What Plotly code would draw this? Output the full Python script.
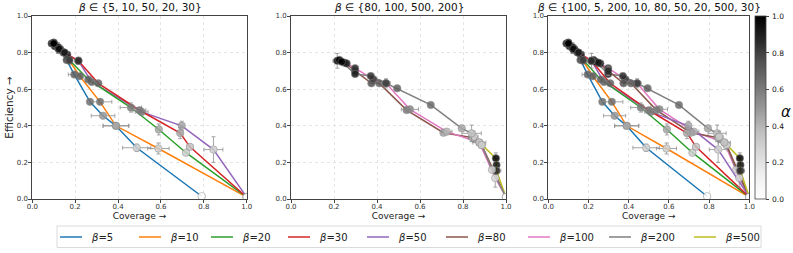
import plotly.graph_objects as go

# ---------------- data ----------------
# beta = 5
b5_cov = [0.090, 0.105, 0.125, 0.160, 0.196, 0.269, 0.330, 0.390, 0.487, 0.790]
b5_eff = [0.850, 0.835, 0.815, 0.760, 0.680, 0.531, 0.455, 0.400, 0.280, 0.015]
b5_alpha = [1.0, 0.95, 0.9, 0.8, 0.7, 0.65, 0.5, 0.45, 0.3, 0.0]
b5_cov_err = [0.010, 0.008, 0.010, 0.010, 0.028, 0.005, 0.055, 0.060, 0.066, 0.015]
b5_eff_err = [0.010, 0.010, 0.020, 0.010, 0.010, 0.008, 0.010, 0.010, 0.020, 0.008]

# beta = 10
b10_cov = [0.095, 0.120, 0.145, 0.173, 0.222, 0.316, 0.390, 0.588, 1.000]
b10_eff = [0.850, 0.825, 0.800, 0.755, 0.671, 0.531, 0.400, 0.276, 0.010]
b10_alpha = [1.0, 0.95, 0.9, 0.8, 0.7, 0.65, 0.45, 0.3, 0.0]
b10_cov_err = [0.010, 0.012, 0.010, 0.010, 0.015, 0.055, 0.060, 0.050, 0.005]
b10_eff_err = [0.010, 0.030, 0.010, 0.010, 0.010, 0.008, 0.010, 0.030, 0.005]

# beta = 20
b20_cov = [0.100, 0.120, 0.150, 0.173, 0.261, 0.460, 0.590, 0.717, 1.000]
b20_eff = [0.850, 0.830, 0.800, 0.760, 0.653, 0.500, 0.380, 0.253, 0.010]
b20_alpha = [1.0, 0.95, 0.9, 0.8, 0.7, 0.6, 0.45, 0.3, 0.0]
b20_cov_err = [0.010, 0.010, 0.010, 0.010, 0.012, 0.050, 0.010, 0.010, 0.005]
b20_eff_err = [0.010, 0.010, 0.010, 0.010, 0.010, 0.025, 0.030, 0.010, 0.005]

# beta = 30
b30_cov = [0.100, 0.125, 0.150, 0.215, 0.308, 0.500, 0.690, 0.735, 1.000]
b30_eff = [0.850, 0.820, 0.800, 0.755, 0.632, 0.485, 0.360, 0.285, 0.010]
b30_alpha = [1.0, 0.95, 0.9, 0.85, 0.7, 0.6, 0.45, 0.35, 0.0]
b30_cov_err = [0.010, 0.010, 0.010, 0.015, 0.010, 0.030, 0.012, 0.015, 0.005]
b30_eff_err = [0.010, 0.010, 0.010, 0.020, 0.010, 0.015, 0.030, 0.015, 0.005]

# beta = 50
b50_cov = [0.100, 0.130, 0.163, 0.215, 0.277, 0.510, 0.697, 0.845, 1.000]
b50_eff = [0.855, 0.820, 0.790, 0.755, 0.640, 0.476, 0.400, 0.270, 0.010]
b50_alpha = [1.0, 0.95, 0.9, 0.85, 0.7, 0.6, 0.45, 0.3, 0.0]
b50_cov_err = [0.010, 0.010, 0.010, 0.010, 0.010, 0.030, 0.010, 0.044, 0.005]
b50_eff_err = [0.010, 0.020, 0.010, 0.010, 0.010, 0.015, 0.025, 0.070, 0.005]

# beta = 80
b80_cov = [0.215, 0.250, 0.298, 0.374, 0.411, 0.538, 0.709, 0.845, 0.887, 1.000]
b80_eff = [0.755, 0.745, 0.700, 0.632, 0.632, 0.486, 0.362, 0.335, 0.295, 0.010]
b80_alpha = [1.0, 0.9, 0.85, 0.75, 0.7, 0.6, 0.45, 0.35, 0.3, 0.0]
b80_cov_err = [0.020, 0.010, 0.010, 0.010, 0.015, 0.015, 0.010, 0.020, 0.010, 0.005]
b80_eff_err = [0.040, 0.010, 0.025, 0.010, 0.010, 0.010, 0.010, 0.020, 0.010, 0.005]

# beta = 100
b100_cov = [0.225, 0.259, 0.298, 0.383, 0.442, 0.553, 0.724, 0.876, 0.950, 1.000]
b100_eff = [0.760, 0.741, 0.715, 0.654, 0.632, 0.490, 0.368, 0.308, 0.115, 0.010]
b100_alpha = [1.0, 0.9, 0.85, 0.8, 0.75, 0.55, 0.4, 0.35, 0.25, 0.0]
b100_cov_err = [0.010, 0.010, 0.010, 0.010, 0.020, 0.040, 0.025, 0.030, 0.010, 0.005]
b100_eff_err = [0.010, 0.010, 0.010, 0.010, 0.025, 0.010, 0.010, 0.010, 0.050, 0.005]

# beta = 200
b200_cov = [0.236, 0.298, 0.371, 0.442, 0.494, 0.650, 0.794, 0.840, 0.887, 0.935, 1.000]
b200_eff = [0.750, 0.683, 0.672, 0.632, 0.605, 0.514, 0.386, 0.359, 0.295, 0.160, 0.010]
b200_alpha = [1.0, 0.9, 0.85, 0.8, 0.7, 0.65, 0.45, 0.35, 0.3, 0.3, 0.0]
b200_cov_err = [0.010, 0.010, 0.010, 0.010, 0.010, 0.010, 0.010, 0.045, 0.010, 0.010, 0.005]
b200_eff_err = [0.010, 0.010, 0.010, 0.010, 0.010, 0.010, 0.010, 0.045, 0.015, 0.010, 0.005]

# beta = 500
b500_cov = [0.850, 0.876, 0.953, 0.956, 0.956, 1.000]
b500_eff = [0.340, 0.310, 0.222, 0.186, 0.155, 0.010]
b500_alpha = [0.3, 0.35, 1.0, 0.95, 0.9, 0.0]
b500_cov_err = [0.020, 0.010, 0.010, 0.010, 0.020, 0.005]
b500_eff_err = [0.030, 0.010, 0.030, 0.010, 0.010, 0.005]

betas = [5, 10, 20, 30, 50, 80, 100, 200, 500]
beta_colors = ["#1f77b4", "#ff7f0e", "#2ca02c", "#d62728", "#9467bd",
               "#8c564b", "#e377c2", "#7f7f7f", "#bcbd22"]
panel_betas = [[5, 10, 50, 20, 30],
               [80, 100, 500, 200],
               [100, 5, 200, 10, 80, 50, 20, 500, 30]]
tick_vals = [0.0, 0.2, 0.4, 0.6, 0.8, 1.0]
tick_text = ["0.0", "0.2", "0.4", "0.6", "0.8", "1.0"]
x_label = "Coverage →"
y_label = "Efficiency →"
cbar_label = "<i>α</i>"

DATA = {
    5: (b5_cov, b5_eff, b5_alpha, b5_cov_err, b5_eff_err),
    10: (b10_cov, b10_eff, b10_alpha, b10_cov_err, b10_eff_err),
    20: (b20_cov, b20_eff, b20_alpha, b20_cov_err, b20_eff_err),
    30: (b30_cov, b30_eff, b30_alpha, b30_cov_err, b30_eff_err),
    50: (b50_cov, b50_eff, b50_alpha, b50_cov_err, b50_eff_err),
    80: (b80_cov, b80_eff, b80_alpha, b80_cov_err, b80_eff_err),
    100: (b100_cov, b100_eff, b100_alpha, b100_cov_err, b100_eff_err),
    200: (b200_cov, b200_eff, b200_alpha, b200_cov_err, b200_eff_err),
    500: (b500_cov, b500_eff, b500_alpha, b500_cov_err, b500_eff_err),
}
COLOR = dict(zip(betas, beta_colors))

# ---------------- figure ----------------
W, H = 793, 253
FONT = "DejaVu Sans"
greys = [[0.0, "#ffffff"], [0.125, "#f0f0f0"], [0.25, "#d9d9d9"], [0.375, "#bdbdbd"],
         [0.5, "#969696"], [0.625, "#737373"], [0.75, "#525252"], [0.875, "#252525"],
         [1.0, "#000000"]]

fig = go.Figure()
axes = [("x", "y"), ("x2", "y2"), ("x3", "y3")]

for p, bl in enumerate(panel_betas):
    xa, ya = axes[p]
    for b in bl:
        cov, eff, al, ce, ee = DATA[b]
        fig.add_trace(go.Scatter(x=cov, y=eff, mode="lines",
                                 line=dict(color=COLOR[b], width=1.5),
                                 showlegend=False, hoverinfo="skip",
                                 xaxis=xa, yaxis=ya))
    for b in bl:
        cov, eff, al, ce, ee = DATA[b]
        fig.add_trace(go.Scatter(
            x=cov, y=eff, mode="markers", showlegend=False,
            marker=dict(color=al, coloraxis="coloraxis", size=7.5,
                        line=dict(color="rgba(130,130,130,0.9)", width=0.6)),
            error_x=dict(type="data", array=ce, color="rgba(140,140,140,0.9)",
                         thickness=1, width=2),
            error_y=dict(type="data", array=ee, color="rgba(140,140,140,0.9)",
                         thickness=1, width=2),
            opacity=0.85, xaxis=xa, yaxis=ya))

CB_TOP, CB_BOT = 16.5, 199.0
y_dom = [1 - 199 / H, 1 - 16 / H]
x_doms = [[32.3 / W, 246.7 / W], [291 / W, 506 / W], [548.3 / W, 749.3 / W]]

axis_common = dict(range=[0, 1], tickvals=tick_vals, ticktext=tick_text,
                   showgrid=True, gridcolor="#e4e4e4", griddash="dot", gridwidth=0.8,
                   showline=True, linecolor="#444", linewidth=0.8, mirror=True,
                   ticks="outside", ticklen=3, tickwidth=0.8, tickcolor="#444",
                   tickfont=dict(size=7, color="#333", family=FONT),
                   zeroline=False, fixedrange=True, automargin=False)

layout = dict(
    template="none",
    width=W, height=H, margin=dict(l=0, r=0, t=0, b=0, autoexpand=False),
    paper_bgcolor="white", plot_bgcolor="white",
    font=dict(family=FONT, color="#222"),
    showlegend=False,
    coloraxis=dict(colorscale=greys, cmin=0, cmax=1,
                   colorbar=dict(x=755 / W, xanchor="left", xpad=0, ypad=0,
                                 thickness=11, len=(CB_BOT - CB_TOP) / H, lenmode="fraction",
                                 y=1 - (CB_TOP + CB_BOT) / 2 / H, yanchor="middle",
                                 outlinewidth=0.8, outlinecolor="#444",
                                 bgcolor="rgba(0,0,0,0)",
                                 tickvals=tick_vals, showticklabels=False,
                                 ticks="outside", ticklen=3, tickwidth=0.8, tickcolor="#444")),
)
for i in range(3):
    sfx = "" if i == 0 else str(i + 1)
    xa = dict(axis_common, domain=x_doms[i], anchor="y" + sfx, ticklabelstandoff=-2,
              title=dict(text=x_label, font=dict(size=9, family=FONT, color="#222"), standoff=2))
    ya = dict(axis_common, domain=y_dom, anchor="x" + sfx, ticklabelstandoff=-1)
    if i == 0:
        ya["title"] = dict(text=y_label, font=dict(size=10.5, family=FONT, color="#222"), standoff=1)
    layout["xaxis" + sfx] = xa
    layout["yaxis" + sfx] = ya

titles = ["<i>β</i> ∈ {" + ", ".join(str(b) for b in bl) + "}" for bl in panel_betas]
ann = []
for i, t in enumerate(titles):
    xc = (x_doms[i][0] + x_doms[i][1]) / 2
    ann.append(dict(text=t, x=xc, y=1 - 7 / H, xref="paper", yref="paper",
                    xanchor="center", yanchor="middle", showarrow=False,
                    font=dict(size=10.5, family=FONT, color="#111")))
ann.append(dict(text=cbar_label, x=786 / W, y=1 - 112 / H, xref="paper", yref="paper",
                xanchor="center", yanchor="middle", showarrow=False,
                font=dict(size=15, family=FONT, color="#111")))
# colour-bar tick labels
for v, t in zip(tick_vals, tick_text):
    ypx = CB_TOP + (1 - v) * (CB_BOT - CB_TOP)
    ann.append(dict(text=t, x=769.5 / W, y=1 - ypx / H, xref="paper", yref="paper",
                    xanchor="left", yanchor="middle", showarrow=False,
                    font=dict(size=7.5, family=FONT, color="#111")))

# custom legend (box, line samples, labels)
leg_line_x = [60, 139, 211, 288, 367, 446, 528, 609, 694]
leg_yc = 237
shapes = [dict(type="rect", xref="paper", yref="paper",
               x0=57 / W, x1=761 / W, y0=1 - 247.5 / H, y1=1 - 226 / H,
               line=dict(color="#d0d0d0", width=0.8), fillcolor="white", layer="below")]
for b, lx in zip(betas, leg_line_x):
    shapes.append(dict(type="line", xref="paper", yref="paper",
                       x0=lx / W, x1=(lx + 22) / W, y0=1 - leg_yc / H, y1=1 - leg_yc / H,
                       line=dict(color=COLOR[b], width=1.5)))
    ann.append(dict(text=f"<i>β</i>={b}", x=(lx + 29) / W, y=1 - leg_yc / H,
                    xref="paper", yref="paper", xanchor="left", yanchor="middle",
                    showarrow=False, font=dict(size=10, family=FONT, color="#222")))
layout["annotations"] = ann
layout["shapes"] = shapes

fig.update_layout(**layout)
fig.write_html("out.html", config={"displayModeBar": False},
               post_script="document.body.style.margin='0px';document.body.style.padding='0px';document.body.style.overflow='hidden';")
